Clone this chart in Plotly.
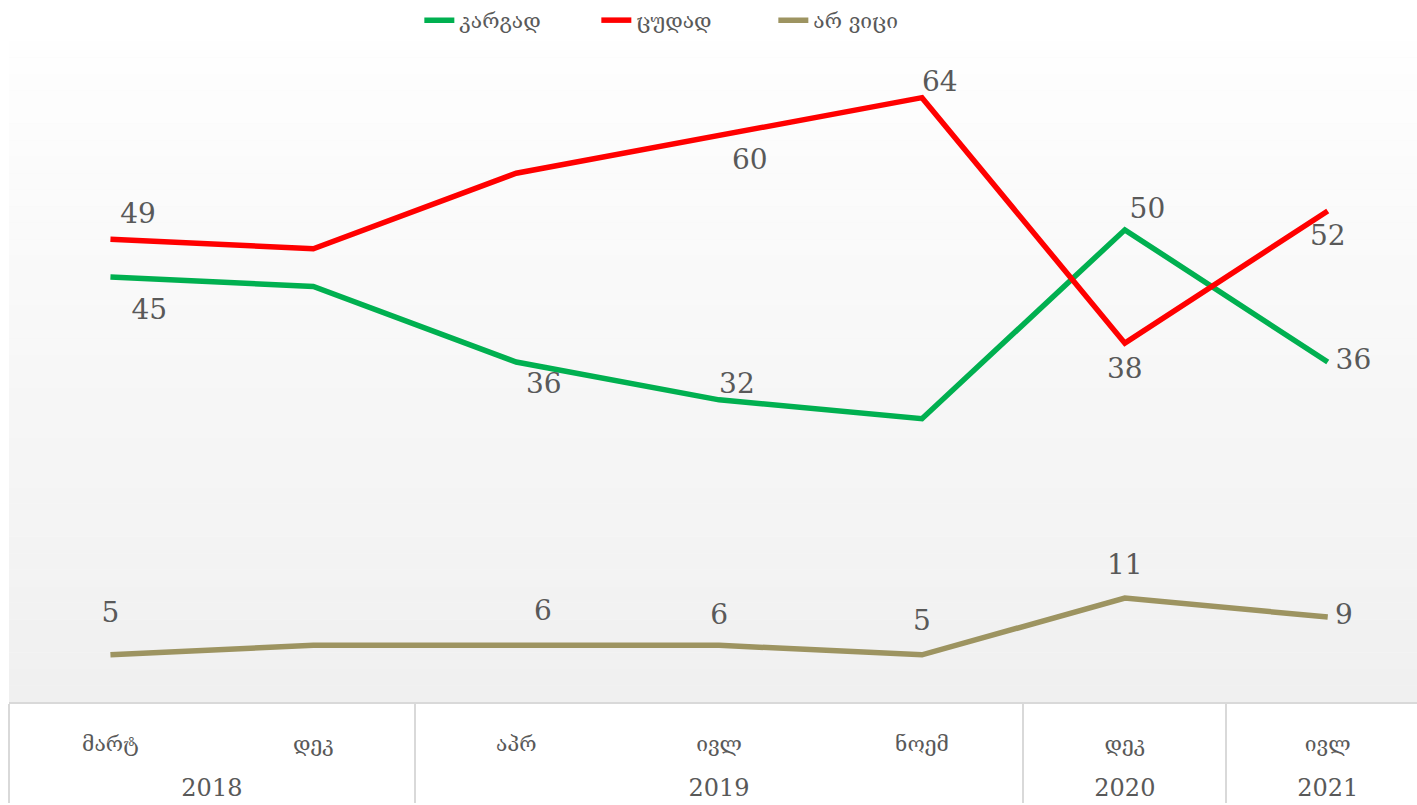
import plotly.graph_objects as go

# data
years = ["2018", "2018", "2019", "2019", "2019", "2020", "2021"]
months = ["მარტ", "დეკ", "აპრ", "ივლ", "ნოემ", "დეკ", "ივლ"]

good = [45, 44, 36, 32, 30, 50, 36]      # კარგად
bad = [49, 48, 56, 60, 64, 38, 52]       # ცუდად
dont_know = [5, 6, 6, 6, 5, 11, 9]       # არ ვიცი

# which points carry a value label (some points have none in the original)
good_lbl = [True, False, True, True, False, True, True]
bad_lbl = [True, False, False, True, True, True, True]
dk_lbl = [True, False, True, True, True, True, True]

# label placement: position + an invisible marker size that sets the gap
good_pos = ["bottom right", "top center", "bottom right", "top right", "top center", "top right", "middle right"]
good_gap = [32, 0, 14, 0, 0, 6, 11]
bad_pos = ["top right", "top center", "top center", "bottom right", "top right", "bottom center", "bottom center"]
bad_gap = [14, 0, 0, 19, 0, 21, 19]
dk_pos = ["top center", "top center", "top right", "top center", "top center", "top center", "middle right"]
dk_gap = [40, 0, 27, 22, 27, 26, 10]

txt_color = "#595959"
font_fam = "DejaVu Serif, Liberation Serif, serif"

# two level category axis, months smaller than years, blank line pushes the years down
month_lbl = ['<span style="font-size:21px">%s</span><br>\u00a0' % m for m in months]
year_lbl = ['<span style="font-size:24px">%s</span>' % y for y in years]
x = [year_lbl, month_lbl]

fig = go.Figure()

series = [
    ("კარგად", good, good_lbl, good_pos, good_gap, "#00b050"),
    ("ცუდად", bad, bad_lbl, bad_pos, bad_gap, "#ff0000"),
    ("არ ვიცი", dont_know, dk_lbl, dk_pos, dk_gap, "#9d9461"),
]

for name, vals, show, pos, gap, col in series:
    fig.add_trace(go.Scatter(
        x=x, y=vals, name=name, mode="lines",
        line=dict(color=col, width=5.5),
        hoverinfo="skip",
    ))
    # value labels
    fig.add_trace(go.Scatter(
        x=x, y=vals, mode="markers+text", showlegend=False,
        marker=dict(size=gap, opacity=0, color=col),
        text=[str(v) if s else "" for v, s in zip(vals, show)],
        textposition=pos,
        textfont=dict(family=font_fam, size=28, color=txt_color),
        cliponaxis=False, hoverinfo="skip",
    ))

# soft vertical gradient behind the plot (white at top -> light grey at bottom)
n = 40
top = (254, 254, 254)
bot = (240, 240, 240)
for i in range(n):
    t = i / (n - 1)
    c = tuple(round(bot[k] + (top[k] - bot[k]) * t) for k in range(3))
    fig.add_shape(type="rect", xref="paper", yref="paper",
                  x0=0, x1=1, y0=i / n, y1=(i + 1) / n,
                  fillcolor="rgb(%d,%d,%d)" % c, line=dict(width=0), layer="below")

fig.update_layout(
    width=1417, height=805,
    margin=dict(l=9, r=0, t=36, b=103),
    paper_bgcolor="white",
    plot_bgcolor="#f6f6f6",
    font=dict(family=font_fam, color=txt_color),
    showlegend=True,
    legend=dict(orientation="h", x=0.48, xanchor="center", y=1.0, yanchor="bottom",
                font=dict(size=21, color=txt_color), entrywidth=132,
                bgcolor="rgba(0,0,0,0)"),
    xaxis=dict(type="multicategory", range=[-0.5, 6.44],
               showgrid=False, showline=True, linecolor="#d9d9d9", linewidth=1.5,
               showdividers=True, dividercolor="#d9d9d9", dividerwidth=1.5,
               ticks="", ticklabelstandoff=16, tickfont=dict(size=26, color=txt_color)),
    yaxis=dict(range=[0, 70], visible=False, showgrid=False, zeroline=False),
)

fig.write_html("out.html", config={"displayModeBar": False},
               post_script="document.body.style.margin='0';")
